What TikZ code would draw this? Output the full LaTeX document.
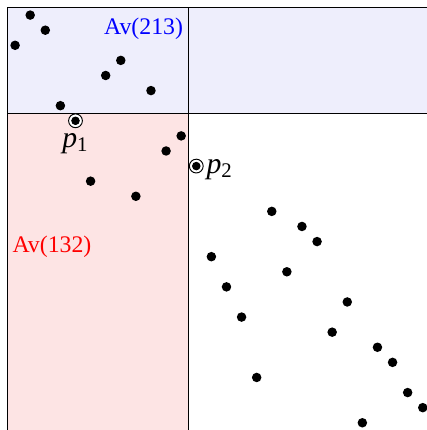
\documentclass[tikz,border=0pt]{standalone}
\usepackage{fontspec}
\setmainfont{Liberation Serif}
\usepackage{xcolor}
\usepackage{tikz}
\usetikzlibrary{positioning}
\definecolor{AzulAv}{RGB}{0,0,255}
\definecolor{RojoAv}{RGB}{255,0,0}
\definecolor{FondoAzul}{RGB}{238,238,252}
\definecolor{FondoRojo}{RGB}{253,228,228}
\tikzset{
  punto/.style={circle,fill=black,inner sep=0pt,minimum size=4pt},
  marcado/.style={circle,draw=black,line width=0.4pt,fill=white,inner sep=0pt,minimum size=5.8pt},
  etiqueta/.style={inner sep=1pt,font=\fontsize{12.5}{14}\selectfont}
}

\begin{document}
\begin{tikzpicture}[x=6.35pt,y=-6.35pt]
  \useasboundingbox (0,0) rectangle (28.28,28.48);
  \clip (0,0) rectangle (28.28,28.48);

  % regiones
  \fill[FondoAzul] (0.5,0.5) rectangle (30,7.5);
  \fill[FondoRojo] (0.5,7.5) rectangle (12.5,30);
  \draw (30,0.5) -- (0.5,0.5) -- (0.5,30);
  \draw (0.5,7.5) -- (30,7.5);
  \draw (12.5,0.5) -- (12.5,30);

  \node[anchor=base east,inner sep=0pt,text=AzulAv] (av213) at (12.15,2.3) {Av(213)};
  \node[anchor=base west,inner sep=0pt,text=RojoAv] (av132) at (0.8,16.75) {Av(132)};

  % puntos de la permutacion
  \foreach \c/\r [count=\i] in {2/1,3/2,1/3,8/4,7/5,10/6,4/7,12/9,11/10,6/12,9/13,
      18/14,20/15,21/16,14/17,19/18,15/19,23/20,16/21,22/22,25/23,26/24,17/25,27/26,28/27,24/28}
    \node[punto] (q\i) at (\c,\r) {};

  \node[marcado] (p1) at (5,8) {};
  \fill (p1) circle (1.8pt);
  \node[etiqueta,below=1pt of p1] (lp1) {\textit{p}\textsubscript{1}};
  \node[marcado] (p2) at (13,11) {};
  \fill (p2) circle (1.8pt);
  \node[etiqueta,right=0pt of p2,yshift=-1.5pt] (lp2) {\textit{p}\textsubscript{2}};
\end{tikzpicture}
\end{document}
